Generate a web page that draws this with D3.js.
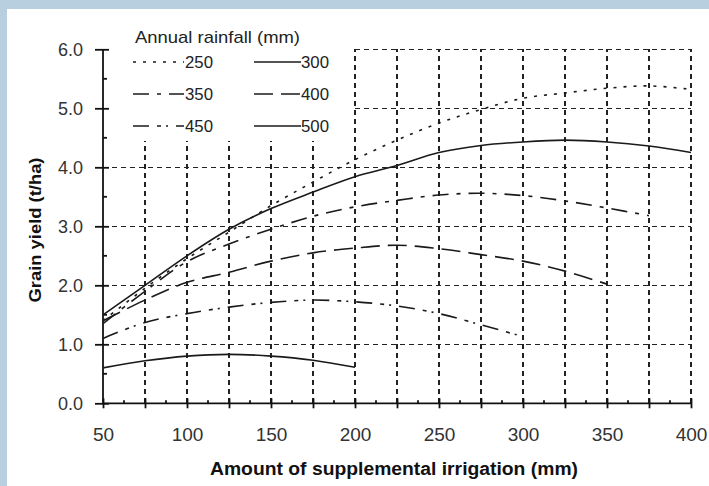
<!DOCTYPE html>
<html>
<head>
<meta charset="utf-8">
<script src="https://cdn.jsdelivr.net/npm/d3@7"></script>
<style>
  body { margin: 0; background: #b8cfdf; }
  svg { display: block; font-family: "Liberation Sans", Arial, sans-serif; }
  .grid line { stroke: #222; stroke-width: 1.4; stroke-dasharray: 5,4; shape-rendering: crispEdges; }
  .axis path, .axis line { stroke: #111; stroke-width: 1.8; }
  .axis text { fill: #333; }
  .curve { fill: none; stroke: #1a1a1a; stroke-width: 1.6; }
</style>
</head>
<body>
<div id="chart"></div>
<script>
// Data
const irrigation = [50, 75, 100, 125, 150, 175, 200, 225, 250, 275, 300, 325, 350, 375, 400];
const rainfall   = ["250", "300", "350", "400", "450", "500"];
const yield250 = [1.40, 1.95, 2.45, 2.90, 3.35, 3.75, 4.13, 4.46, 4.75, 4.98, 5.17, 5.26, 5.34, 5.38, 5.32];
const yield300 = [1.50, 2.00, 2.50, 2.95, 3.30, 3.58, 3.84, 4.03, 4.25, 4.37, 4.43, 4.46, 4.43, 4.36, 4.25];
const yield350 = [1.35, 1.90, 2.40, 2.70, 2.95, 3.17, 3.33, 3.44, 3.53, 3.56, 3.52, 3.43, 3.31, 3.18, null];
const yield400 = [1.40, 1.75, 2.05, 2.22, 2.41, 2.55, 2.63, 2.68, 2.62, 2.52, 2.41, 2.24, 2.02, null, null];
const yield450 = [1.10, 1.37, 1.52, 1.63, 1.71, 1.75, 1.72, 1.65, 1.52, 1.33, 1.13, null, null, null, null];
const yield500 = [0.60, 0.72, 0.80, 0.83, 0.80, 0.73, 0.61, null, null, null, null, null, null, null, null];
const xTicks = [50, 75, 100, 125, 150, 175, 200, 225, 250, 275, 300, 325, 350, 375, 400];
const yTicks = [0, 1, 2, 3, 4, 5, 6];

const series = [yield250, yield300, yield350, yield400, yield450, yield500];
const dashes = ["3,7", null, "16,8,4,8", "19,8", "16,8,4,5,2,8", null];

const width = 709, height = 486;

const svg = d3.select("#chart").append("svg")
	.attr("width", width).attr("height", height);

// white page inside the blue frame
svg.append("rect").attr("x", 7).attr("y", 9)
	.attr("width", width - 7).attr("height", height - 9).attr("fill", "#fff");

const x = d3.scaleLinear([50, 400], [103, 691]);
const y = d3.scaleLinear([0, 6], [403.3, 49.3]);

// Grid
const grid = svg.append("g").classed("grid", true);
grid.selectAll("line.v")
	.data(xTicks.slice(1))
	.join("line").classed("v", true)
	.attr("x1", d => x(d)).attr("x2", d => x(d))
	.attr("y1", y(0)).attr("y2", y(6));
grid.selectAll("line.h")
	.data(yTicks.slice(1))
	.join("line").classed("h", true)
	.attr("x1", x(50)).attr("x2", x(400))
	.attr("y1", d => y(d)).attr("y2", d => y(d));

// legend background hides the grid in the top-left corner
svg.append("rect")
	.attr("x", x(50) + 1).attr("y", 14)
	.attr("width", x(200) - x(50) - 3).attr("height", 127)
	.attr("fill", "#fff");

// Axes
const axisX = svg.append("g").classed("axis", true)
	.attr("transform", `translate(0, ${y(0)})`)
	.call(d3.axisBottom(x).tickValues(xTicks).tickSize(5)
		.tickFormat(d => d % 50 === 0 ? d : ""));
axisX.select(".domain").attr("d", `M${x(50)},0H${x(400)}`);
axisX.selectAll(".tick line").attr("y1", -5).attr("y2", 5);
axisX.selectAll(".tick text").attr("y", 24)
	.style("font-size", "19px").style("font-family", "Liberation Sans, Arial, sans-serif");

const axisY = svg.append("g").classed("axis", true)
	.attr("transform", `translate(${x(50)}, 0)`)
	.call(d3.axisLeft(y).tickValues(yTicks).tickSize(8).tickFormat(d3.format(".1f")));
axisY.select(".domain").attr("d", `M0,${y(0)}V${y(6)}`);
axisY.selectAll(".tick line").attr("x1", -8).attr("x2", 6);
axisY.selectAll(".tick text").attr("x", -20)
	.style("font-size", "18px").style("font-family", "Liberation Sans, Arial, sans-serif");

// minor ticks
svg.append("g").classed("axis", true).selectAll("line")
	.data(xTicks.slice(0, -1).map(d => d + 12.5))
	.join("line")
	.attr("x1", d => x(d)).attr("x2", d => x(d))
	.attr("y1", y(0)).attr("y2", y(0) - 3);
svg.append("g").classed("axis", true).selectAll("line")
	.data(yTicks.slice(0, -1).map(d => d + 0.5))
	.join("line")
	.attr("x1", x(50)).attr("x2", x(50) + 4)
	.attr("y1", d => y(d)).attr("y2", d => y(d));

// Curves
const line = d3.line()
	.defined(d => d[1] !== null)
	.x(d => x(d[0])).y(d => y(d[1]))
	.curve(d3.curveCatmullRom);

svg.append("g").selectAll("path")
	.data(series)
	.join("path").classed("curve", true)
	.attr("d", s => line(irrigation.map((v, i) => [v, s[i]])))
	.attr("stroke-dasharray", (s, i) => dashes[i]);

// Axis titles
svg.append("text")
	.attr("x", 394).attr("y", 475)
	.attr("text-anchor", "middle")
	.attr("textLength", 368).attr("lengthAdjust", "spacingAndGlyphs")
	.style("font-size", "18px").style("font-weight", "bold").attr("fill", "#111")
	.text("Amount of supplemental irrigation (mm)");

svg.append("text")
	.attr("transform", "translate(41, 230) rotate(-90)")
	.attr("text-anchor", "middle")
	.attr("textLength", 145).attr("lengthAdjust", "spacingAndGlyphs")
	.style("font-size", "17px").style("font-weight", "bold").attr("fill", "#111")
	.text("Grain yield (t/ha)");

// Legend
const legend = svg.append("g");
legend.append("text")
	.attr("x", 135).attr("y", 43)
	.attr("textLength", 165).attr("lengthAdjust", "spacingAndGlyphs")
	.style("font-size", "17px").attr("fill", "#222")
	.text("Annual rainfall (mm)");

const items = legend.selectAll("g.item")
	.data(rainfall)
	.join("g").classed("item", true)
	.attr("transform", (d, i) => `translate(${i % 2 ? 254 : 133}, ${[62, 94, 126][Math.floor(i / 2)]})`);
items.append("line").classed("curve", true)
	.attr("x1", 0).attr("x2", (d, i) => i % 2 ? 47 : 51)
	.attr("stroke-dasharray", (d, i) => dashes[i]);
items.append("text")
	.attr("x", (d, i) => i % 2 ? 47 : 52).attr("dy", "0.36em")
	.attr("textLength", 28).attr("lengthAdjust", "spacingAndGlyphs")
	.style("font-size", "16px").attr("fill", "#222")
	.text(d => d);
</script>
</body>
</html>
